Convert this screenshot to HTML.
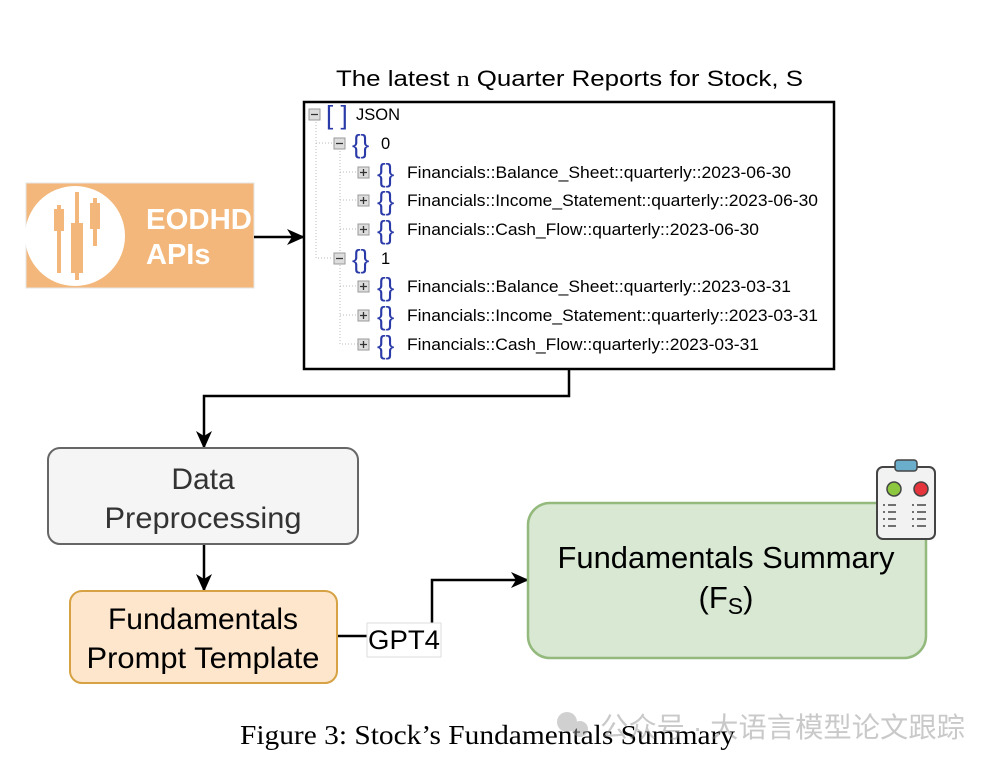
<!DOCTYPE html>
<html><head><meta charset="utf-8"><style>
body{margin:0;background:#fff;width:998px;height:768px;overflow:hidden}
svg{display:block}
.t{font-family:"Liberation Sans",Arial,sans-serif}
.j{font-family:"Liberation Sans",Arial,sans-serif;font-size:16.5px;fill:#000}
.br{font-family:"Liberation Sans",sans-serif;font-size:26px;fill:#2a3aa8}
</style></head><body>
<svg width="998" height="768" viewBox="0 0 998 768">
<defs><marker id="a" markerWidth="18" markerHeight="16" refX="16" refY="8" orient="auto" markerUnits="userSpaceOnUse"><path d="M0,0 L18,8 L0,16 L5,8 Z" fill="#000"/></marker></defs>
<text class="t" x="336" y="86" font-size="22" textLength="467" lengthAdjust="spacingAndGlyphs">The latest <tspan font-family="Liberation Serif">n</tspan> Quarter Reports for Stock, S</text>
<rect x="304" y="102" width="530" height="267" fill="#fff" stroke="#000" stroke-width="2.5"/>
<g stroke="#bbb" stroke-dasharray="1,2" fill="none">
<path d="M316,122 V143 H332"/><path d="M340,151 V344 H358"/><path d="M340,172 H358 M340,200 H358 M340,229 H358 M340,286 H358 M340,315 H358 M316,122 V258 H332"/>
</g>
<g fill="#ddd" stroke="#999" stroke-width="1">
<rect x="309" y="109" width="11" height="11"/><rect x="334" y="138" width="11" height="11"/><rect x="334" y="253" width="11" height="11"/>
<rect x="358" y="167" width="11" height="11"/><rect x="358" y="195" width="11" height="11"/><rect x="358" y="224" width="11" height="11"/>
<rect x="358" y="281" width="11" height="11"/><rect x="358" y="310" width="11" height="11"/><rect x="358" y="339" width="11" height="11"/>
</g>
<g stroke="#333" stroke-width="1.3">
<path d="M311,114.5h7M336,143.5h7M336,258.5h7M360,172.5h7M363.5,169v7M360,200.5h7M363.5,197v7M360,229.5h7M363.5,226v7M360,286.5h7M363.5,283v7M360,315.5h7M363.5,312v7M360,344.5h7M363.5,341v7"/>
</g>
<text class="br" x="326" y="124">[ ]</text>
<text class="br" x="352" y="153">{}</text><text class="br" x="352" y="268">{}</text>
<text class="br" x="377" y="182">{}</text><text class="br" x="377" y="210">{}</text><text class="br" x="377" y="239">{}</text>
<text class="br" x="377" y="296">{}</text><text class="br" x="377" y="325">{}</text><text class="br" x="377" y="354">{}</text>
<text class="j" x="356" y="120">JSON</text>
<text class="j" x="381" y="149">0</text><text class="j" x="381" y="264">1</text>
<text class="j" x="407" y="178" textLength="384" lengthAdjust="spacingAndGlyphs">Financials::Balance_Sheet::quarterly::2023-06-30</text>
<text class="j" x="407" y="206" textLength="411" lengthAdjust="spacingAndGlyphs">Financials::Income_Statement::quarterly::2023-06-30</text>
<text class="j" x="407" y="235" textLength="352" lengthAdjust="spacingAndGlyphs">Financials::Cash_Flow::quarterly::2023-06-30</text>
<text class="j" x="407" y="292" textLength="384" lengthAdjust="spacingAndGlyphs">Financials::Balance_Sheet::quarterly::2023-03-31</text>
<text class="j" x="407" y="321" textLength="411" lengthAdjust="spacingAndGlyphs">Financials::Income_Statement::quarterly::2023-03-31</text>
<text class="j" x="407" y="350" textLength="352" lengthAdjust="spacingAndGlyphs">Financials::Cash_Flow::quarterly::2023-03-31</text>
<rect x="26" y="183" width="228" height="105" fill="#f3b77b" stroke="#e5e5e5"/>
<circle cx="75" cy="236" r="50" fill="#fff"/>
<g fill="#f3b77b"><rect x="57" y="205" width="4" height="68"/><rect x="54" y="209" width="10" height="22"/>
<rect x="75" y="192" width="4" height="88"/><rect x="71" y="223" width="12" height="50"/>
<rect x="93" y="198" width="4" height="48"/><rect x="90" y="203" width="10" height="26"/></g>
<text class="t" x="146" y="229" font-size="29" font-weight="bold" fill="#fff" textLength="106" lengthAdjust="spacingAndGlyphs">EODHD</text>
<text class="t" x="146" y="264" font-size="29" font-weight="bold" fill="#fff">APIs</text>
<g stroke="#000" stroke-width="2.5" fill="none">
<path d="M254,237 H303" marker-end="url(#a)"/>
<path d="M569,369 V396 H204 V447" marker-end="url(#a)"/>
<path d="M204,544 V590" marker-end="url(#a)"/>
<path d="M337,636 H367"/>
<path d="M432,623 V580 H527" marker-end="url(#a)"/>
</g>
<rect x="48" y="448" width="310" height="96" rx="12" fill="#f5f5f5" stroke="#666" stroke-width="2"/>
<text class="t" x="203" y="489" font-size="30" text-anchor="middle" fill="#333">Data</text>
<text class="t" x="203" y="528" font-size="30" text-anchor="middle" fill="#333" textLength="197" lengthAdjust="spacingAndGlyphs">Preprocessing</text>
<rect x="70" y="591" width="267" height="92" rx="12" fill="#fde6cc" stroke="#d6a243" stroke-width="2"/>
<text class="t" x="203" y="629" font-size="30" text-anchor="middle">Fundamentals</text>
<text class="t" x="203" y="668" font-size="30" text-anchor="middle" textLength="233" lengthAdjust="spacingAndGlyphs">Prompt Template</text>
<rect x="367" y="623" width="74" height="34" fill="#fff" stroke="#ddd"/>
<text class="t" x="404" y="649" font-size="27" text-anchor="middle" textLength="72" lengthAdjust="spacingAndGlyphs">GPT4</text>
<rect x="528" y="503" width="398" height="155" rx="22" fill="#d8e8d3" stroke="#93b97c" stroke-width="2.5"/>
<text class="t" x="726" y="568" font-size="31" text-anchor="middle" textLength="337" lengthAdjust="spacingAndGlyphs">Fundamentals Summary</text>
<text class="t" x="726" y="608" font-size="31" text-anchor="middle">(F<tspan font-size="23" dy="6">S</tspan><tspan dy="-6">)</tspan></text>
<rect x="877" y="467" width="58" height="72" rx="6" fill="#f2f2f2" stroke="#444" stroke-width="2"/>
<rect x="895" y="460" width="22" height="11" rx="3" fill="#6aaecc" stroke="#444" stroke-width="1.5"/>
<circle cx="894" cy="489" r="7" fill="#8dc63f" stroke="#444" stroke-width="1.5"/>
<circle cx="921" cy="489" r="7" fill="#e5343b" stroke="#444" stroke-width="1.5"/>
<g stroke="#444" stroke-width="1.5"><path d="M883,505h2M888,505h8M883,512h2M888,512h8M883,519h2M888,519h8M883,526h2M888,526h8M912,505h2M917,505h9M912,512h2M917,512h9M912,519h2M917,519h9M912,526h2M917,526h9"/></g>
<text x="240" y="744" font-family="Liberation Serif,serif" font-size="27" textLength="495" lengthAdjust="spacingAndGlyphs">Figure 3: Stock’s Fundamentals Summary</text>
<g opacity="0.45">
<circle cx="567" cy="722" r="10" fill="#999"/><circle cx="580" cy="729" r="8" fill="#999"/>
<text x="600" y="737" font-family="Liberation Sans,'Noto Sans CJK SC',sans-serif" font-size="28" fill="#888" textLength="365" lengthAdjust="spacingAndGlyphs">公众号 · 大语言模型论文跟踪</text>
</g>
</svg>
</body></html>
